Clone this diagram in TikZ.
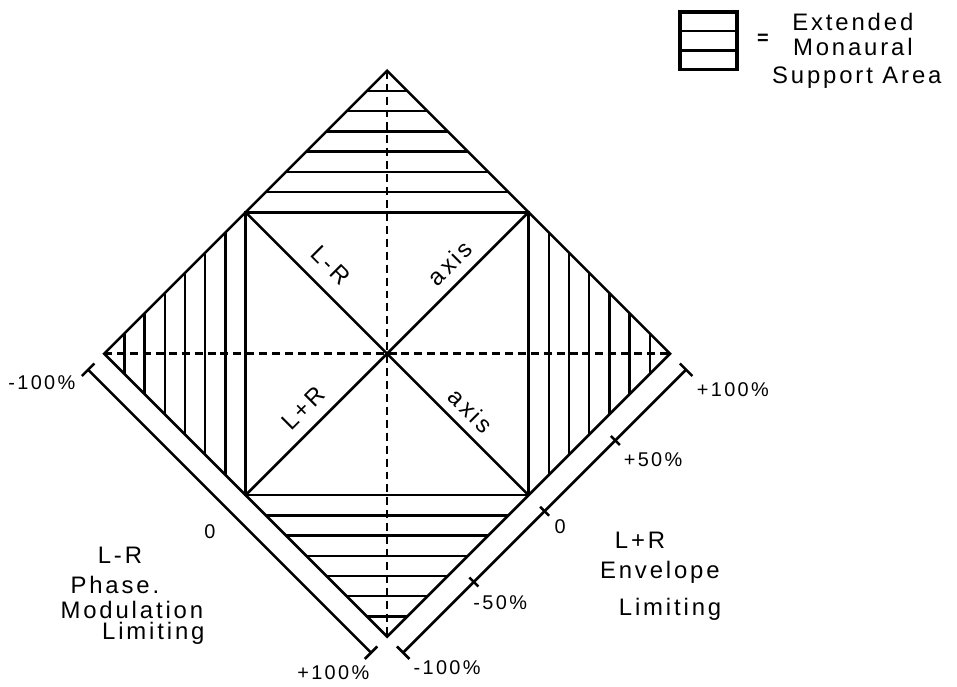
\documentclass[tikz,border=0pt]{standalone}
\usepackage{fontspec}
\setmainfont[LetterSpace=12]{Liberation Sans}
\usetikzlibrary{calc}
\begin{document}
\begin{tikzpicture}[line width=1.3pt, every node/.style={font=\fontsize{12}{14}\selectfont},
    pct/.style={font=\fontsize{10}{12}\selectfont},
    onaxis/.style={inner sep=1pt},
    hatch/.style={line width=1.2pt},
    midline/.style={line width=1.3pt, dash pattern=on 4pt off 2.5pt}]
    \useasboundingbox (-6.84,-5.88) rectangle (10.07,6.25);
    \coordinate (T) at (0,5);
    \coordinate (L) at (-5,0);
    \coordinate (R) at (5,0);
    \coordinate (B) at (0,-5);
    \coordinate (TL) at (-2.5,2.5);
    \coordinate (TR) at (2.5,2.5);
    \coordinate (BR) at (2.5,-2.5);
    \coordinate (BL) at (-2.5,-2.5);
    \foreach \k in {1,...,6} {
        \pgfmathsetmacro\d{2.5+\k*2.5/7}
        \pgfmathsetmacro\w{5-\d}
        \draw[hatch] (-\w,\d) -- (\w,\d);
        \draw[hatch] (-\w,-\d) -- (\w,-\d);
        \draw[hatch] (-\d,-\w) -- (-\d,\w);
        \draw[hatch] (\d,-\w) -- (\d,\w);
    }
    \draw[midline] (L) -- (R);
    \draw[midline] (T) -- (B);
    \draw (T) -- (R) -- (B) -- (L) -- cycle;
    \draw (TL) -- (TR) -- (BR) -- (BL) -- cycle;
    \draw (TL) -- (BR);
    \draw (TR) -- (BL);
    \node[onaxis, rotate=-45] (lr) at (-1.00,1.56) {L-R};
    \node[onaxis, rotate=45] (ax1) at (1.11,1.60) {axis};
    \node[onaxis, rotate=45] (lp) at (-1.48,-0.96) {L+R};
    \node[onaxis, rotate=-45] (ax2) at (1.48,-1.01) {axis};
    % L-R scale
    \coordinate (Ls) at (-5.283,-0.283);
    \coordinate (Le) at (-0.283,-5.283);
    \draw (Ls) -- (Le);
    \draw ([shift={(-0.11,-0.11)}]Ls) -- ([shift={(0.11,0.11)}]Ls);
    \draw ([shift={(-0.11,-0.11)}]Le) -- ([shift={(0.11,0.11)}]Le);
    \node[pct] (ls1) at (-6.10,-0.51) {-100\%};
    \node[pct] (ls2) at (-0.95,-5.64) {+100\%};
    \node[pct] (ls0) at (-3.13,-3.15) {0};
    \node (lt1) at (-4.72,-3.57) {L-R};
    \node (lt2) at (-4.81,-4.09) {Phase.};
    \node (lt3) at (-4.51,-4.52) {Modulation};
    \node (lt4) at (-4.13,-4.94) {Limiting};
    % L+R scale
    \coordinate (Rs) at (5.283,-0.283);
    \coordinate (Re) at (0.283,-5.283);
    \draw (Rs) -- (Re);
    \draw ([shift={(-0.11,0.11)}]Rs) -- ([shift={(0.11,-0.11)}]Rs);
    \draw ([shift={(-0.11,0.11)}]Re) -- ([shift={(0.11,-0.11)}]Re);
    \foreach \t in {0.25,0.5,0.75} {
        \coordinate (tk) at ($(Rs)!\t!(Re)$);
        \draw ([shift={(-0.08,0.08)}]tk) -- ([shift={(0.08,-0.08)}]tk);
    }
    \node[pct] (rs1) at (6.11,-0.64) {+100\%};
    \node[pct] (rs2) at (4.70,-1.87) {+50\%};
    \node[pct] (rs0) at (3.06,-3.06) {0};
    \node[pct] (rs3) at (2.00,-4.40) {-50\%};
    \node[pct] (rs4) at (1.06,-5.55) {-100\%};
    \node (rt1) at (4.47,-3.29) {L+R};
    \node (rt2) at (4.82,-3.87) {Envelope};
    \node (rt3) at (5.00,-4.52) {Limiting};
    % legend
    \coordinate (K1) at (5.18,6.04);
    \coordinate (K2) at (6.18,5.02);
    \draw[line width=1.8pt] (K1) rectangle (K2);
    \draw[hatch] (5.18,5.70) -- (6.18,5.70);
    \draw[hatch] (5.18,5.36) -- (6.18,5.36);
    \node[font=\bfseries] (eq) at (6.64,5.55) {=};
    \node (k1) at (8.23,5.87) {Extended};
    \node (k2) at (8.23,5.42) {Monaural};
    \node (k3) at (8.30,4.88) {Support Area};
\end{tikzpicture}
\end{document}
